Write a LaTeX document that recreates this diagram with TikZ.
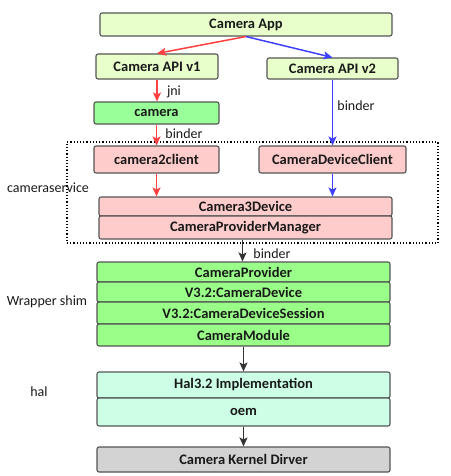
\documentclass[tikz,border=0pt]{standalone}
\usepackage{fontspec}
\setmainfont{Carlito}
\usetikzlibrary{arrows.meta}
\definecolor{cApp}{HTML}{E8FFCC}
\definecolor{cCam}{HTML}{99FF99}
\definecolor{cPink}{HTML}{FFCCCC}
\definecolor{cWrap}{HTML}{99FF88}
\definecolor{cHal}{HTML}{CCFFE6}
\definecolor{cKer}{HTML}{D3D3D3}
\definecolor{cBord}{HTML}{555555}
\definecolor{cRed}{HTML}{FF4040}
\definecolor{cBlue}{HTML}{4040FF}
\definecolor{cTxt}{HTML}{1A1A1A}
\tikzset{
  blk/.style={draw=cBord, line width=1.1pt, rounded corners=2pt, inner sep=0pt,
    font=\fontsize{14.5}{16}\selectfont\bfseries, text=cTxt},
  lbl/.style={font=\fontsize{14}{16}\selectfont, text=cTxt, inner sep=0pt},
  arr/.style={-{Stealth[length=9pt,width=8pt,inset=2pt]}, line width=1.5pt},
}
\begin{document}
\begin{tikzpicture}[x=1pt,y=-1pt]
\useasboundingbox (0,0) rectangle (450,476);
\node[draw=black, dotted, line width=1.2pt, minimum width=371pt, minimum height=101pt, inner sep=0pt] (svc) at (252.5,192.5) {};
\node[blk, fill=cApp, minimum width=292pt, minimum height=23pt] (app) at (246,24.5) {Camera App};
\node[blk, fill=cApp, minimum width=122pt, minimum height=25pt] (v1) at (157,66.5) {Camera API v1};
\node[blk, fill=cApp, minimum width=131pt, minimum height=21pt] (v2) at (332.5,68.5) {Camera API v2};
\node[blk, fill=cCam, minimum width=125pt, minimum height=22pt] (cam) at (156.5,113) {camera};
\node[blk, fill=cPink, minimum width=125pt, minimum height=27pt] (c2c) at (156.5,159.5) {camera2client};
\node[blk, fill=cPink, minimum width=147pt, minimum height=27pt] (cdc) at (332.5,159.5) {CameraDeviceClient};
\node[blk, fill=cPink, minimum width=293pt, minimum height=19pt] (c3d) at (245.5,206.5) {Camera3Device};
\node[blk, fill=cPink, minimum width=293pt, minimum height=23pt] (cpm) at (245.5,227.5) {CameraProviderManager};
\node[blk, fill=cWrap, minimum width=293pt, minimum height=20pt] (cp) at (243.5,272) {CameraProvider};
\node[blk, fill=cWrap, minimum width=293pt, minimum height=20pt] (cd) at (243.5,292) {V3.2:CameraDevice};
\node[blk, fill=cWrap, minimum width=293pt, minimum height=22pt] (cds) at (243.5,313) {V3.2:CameraDeviceSession};
\node[blk, fill=cWrap, minimum width=293pt, minimum height=22pt] (cm) at (243.5,335) {CameraModule};
\node[blk, fill=cHal, minimum width=293pt, minimum height=26pt] (hal) at (243.5,385) {Hal3.2 Implementation};
\node[blk, fill=cHal, minimum width=293pt, minimum height=28pt] (oem) at (243.5,412) {oem};
\node[blk, fill=cKer, minimum width=293pt, minimum height=25pt] (ker) at (243.5,459.5) {Camera Kernel Dirver};
% labels
\node[lbl] (ljni) at (174,92) {jni};
\node[lbl] (lb1) at (184,134) {binder};
\node[lbl] (lb2) at (356,106) {binder};
\node[lbl] (lb3) at (272,254) {binder};
\node[lbl] (lsvc) at (48,188) {cameraservice};
\node[lbl] (lwrap) at (47,302) {Wrapper shim};
\node[lbl] (lhal) at (39,392) {hal};
% arrows
\draw[arr, cRed] (app.south) -- (v1.north);
\draw[arr, cBlue] (app.south) -- (v2.north);
\draw[arr, cRed] (v1.south) -- (v1.south |- cam.north);
\draw[arr, cRed] (cam.south) -- (cam.south |- c2c.north);
\draw[arr, cBlue] (v2.south) -- (v2.south |- cdc.north);
\draw[arr, cRed] (c2c.south) -- (c2c.south |- c3d.north);
\draw[arr, cBlue] (cdc.south) -- (cdc.south |- c3d.north);
\draw[arr, black!80] ([xshift=-3pt]cpm.south) -- ([xshift=-3pt]cpm.south |- cp.north);
\draw[arr, black!80] (cm.south) -- (cm.south |- hal.north);
\draw[arr, black!80] (oem.south) -- (oem.south |- ker.north);
\end{tikzpicture}
\end{document}
